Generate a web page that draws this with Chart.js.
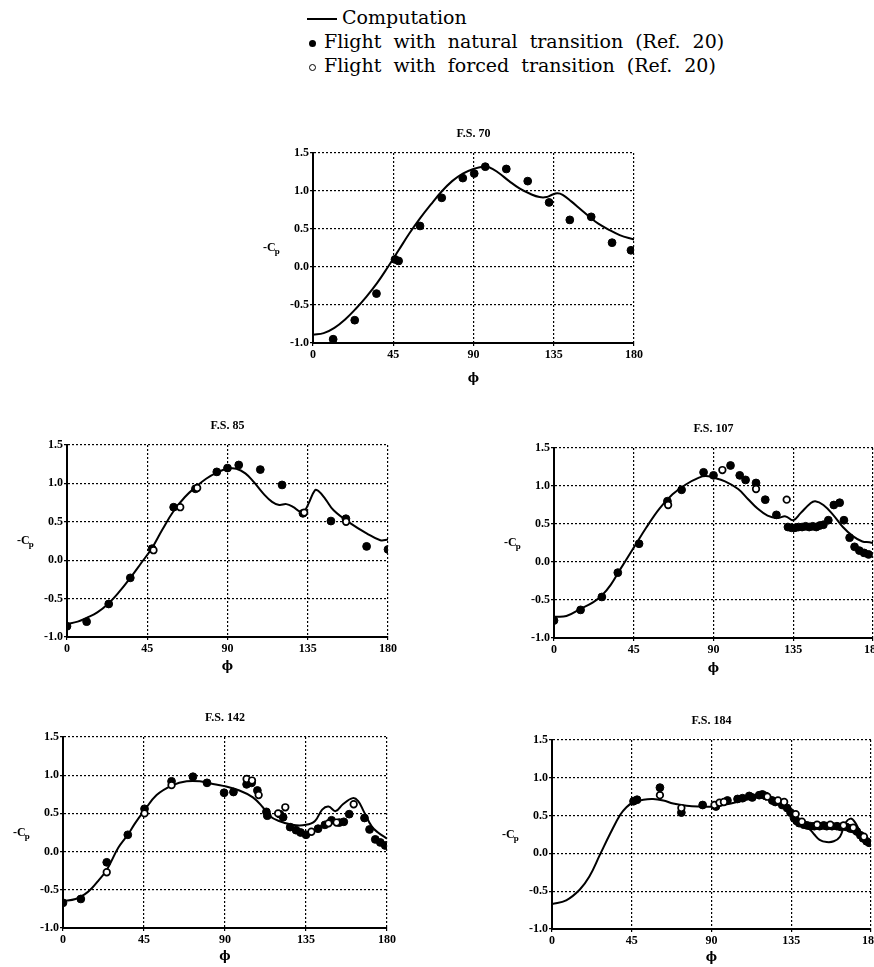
<!DOCTYPE html>
<html>
<head>
<meta charset="utf-8">
<script src="https://cdn.jsdelivr.net/npm/chart.js@4.4.1/dist/chart.umd.min.js"></script>
<style>
  html, body { margin:0; padding:0; background:#fff; width:874px; height:967px; overflow:hidden; }
  #page { position:relative; width:874px; height:967px; overflow:hidden; }
  .box { position:absolute; }
  #legend { position:absolute; left:307px; top:5px; font-family:"DejaVu Serif", serif; font-size:19px; word-spacing:6px; line-height:24px; color:#000; white-space:nowrap; }
  .dash { display:inline-block; width:30px; height:0; border-top:2px solid #000; vertical-align:middle; margin-right:5px; }
  .dot { display:inline-block; width:7px; height:7px; border-radius:50%; background:#000; vertical-align:middle; margin:0 8px 0 2px; }
  .ring { display:inline-block; width:5px; height:5px; border-radius:50%; border:1.3px solid #000; vertical-align:middle; margin:0 8px 0 2px; }
</style>
</head>
<body>
<div id="page">
  <div id="legend">
    <div><span class="dash"></span>Computation</div>
    <div><span class="dot"></span>Flight with natural transition (Ref. 20)</div>
    <div><span class="ring"></span>Flight with forced transition (Ref. 20)</div>
  </div>
</div>
<script>
// ---------- axis ticks ----------
const phiTicks = [0, 45, 90, 135, 180];
const cpTicks = [-1.0, -0.5, 0.0, 0.5, 1.0, 1.5];

// ---------- F.S. 70 ----------
const fs70LinePhi = [0, 6, 12, 18, 24, 30, 36, 42, 48, 54, 60, 66, 72, 78, 84, 90, 95, 99, 104, 110, 116, 122, 127, 131, 134, 137, 140, 145, 150, 155, 160, 166, 172, 180];
const fs70LineCp  = [-0.89, -0.87, -0.80, -0.69, -0.55, -0.39, -0.21, 0.00, 0.22, 0.44, 0.64, 0.82, 0.99, 1.13, 1.23, 1.29, 1.32, 1.31, 1.24, 1.13, 1.03, 0.96, 0.92, 0.92, 0.95, 0.97, 0.95, 0.86, 0.76, 0.66, 0.57, 0.49, 0.42, 0.36];
const fs70NatPhi  = [11.3, 23.4, 35.6, 46, 48, 60, 72.2, 84, 90.4, 96.6, 108.4, 120.4, 132.4, 144, 156, 167.7, 178.3];
const fs70NatCp   = [-0.95, -0.70, -0.35, 0.10, 0.08, 0.54, 0.91, 1.17, 1.23, 1.32, 1.29, 1.13, 0.85, 0.62, 0.66, 0.32, 0.22];
const fs70ForPhi  = [];
const fs70ForCp   = [];

// ---------- F.S. 85 ----------
const fs85LinePhi = [0, 6, 11, 17, 23.4, 29, 35.5, 41.5, 47.7, 53.5, 59.8, 66, 72, 78, 84, 90, 95, 100, 104.7, 110, 115, 119, 123, 127, 130, 132.7, 135.5, 139, 141, 144.8, 149.5, 159, 168, 175.7, 180];
const fs85LineCp  = [-0.83, -0.80, -0.75, -0.68, -0.56, -0.42, -0.23, -0.04, 0.16, 0.40, 0.64, 0.82, 0.95, 1.06, 1.14, 1.19, 1.19, 1.13, 1.02, 0.87, 0.76, 0.72, 0.73, 0.69, 0.64, 0.63, 0.74, 0.91, 0.90, 0.80, 0.65, 0.48, 0.35, 0.26, 0.27];
const fs85NatPhi  = [0, 11, 23.4, 35.5, 47.7, 59.8, 72, 84, 90, 96.3, 108.4, 120.6, 132.3, 148, 156.4, 168, 180];
const fs85NatCp   = [-0.86, -0.80, -0.57, -0.23, 0.15, 0.69, 0.93, 1.15, 1.20, 1.24, 1.18, 0.98, 0.61, 0.51, 0.54, 0.18, 0.14];
const fs85ForPhi  = [48.5, 63.5, 73, 133, 156.5];
const fs85ForCp   = [0.13, 0.69, 0.94, 0.62, 0.50];

// ---------- F.S. 107 ----------
const fs107LinePhi = [0, 7, 14.6, 22, 27, 32, 37, 44.5, 52, 59.4, 66.9, 74.4, 81.8, 85.6, 90, 96.5, 103.9, 109.4, 115, 120.5, 126, 130.7, 135, 139, 144.6, 147.4, 152, 157.5, 163, 168.6, 174, 178, 180];
const fs107LineCp  = [-0.72, -0.71, -0.62, -0.53, -0.44, -0.30, -0.11, 0.17, 0.45, 0.70, 0.89, 1.02, 1.11, 1.13, 1.11, 1.06, 0.96, 0.83, 0.70, 0.61, 0.58, 0.60, 0.55, 0.64, 0.77, 0.80, 0.75, 0.62, 0.46, 0.34, 0.27, 0.26, 0.25];
const fs107NatPhi  = [0, 15, 27, 36, 48, 64, 72, 84.4, 90, 99.6, 104.8, 108.1, 114, 119.2, 125.5, 132, 134, 136, 138, 140, 142, 144, 146, 148, 150, 152, 154.8, 157.9, 161.2, 163.6, 166.8, 169.6, 172.3, 175, 177.5];
const fs107NatCp   = [-0.77, -0.63, -0.46, -0.14, 0.24, 0.80, 0.95, 1.18, 1.14, 1.27, 1.14, 1.08, 1.04, 0.82, 0.62, 0.46, 0.45, 0.45, 0.46, 0.46, 0.47, 0.46, 0.47, 0.46, 0.48, 0.49, 0.55, 0.75, 0.78, 0.55, 0.32, 0.20, 0.15, 0.12, 0.10];
const fs107ForPhi  = [64.4, 95, 114, 131.3];
const fs107ForCp   = [0.75, 1.21, 0.96, 0.82];

// ---------- F.S. 142 ----------
const fs142LinePhi = [0, 7, 12, 16, 20, 24.3, 30.7, 36, 40, 44.6, 52, 61, 68.7, 76, 82, 89, 98, 105.5, 111, 114.6, 120, 127.4, 135, 140, 144, 147.5, 151.5, 155.5, 161, 164, 167, 171.5, 175, 180];
const fs142LineCp  = [-0.65, -0.62, -0.56, -0.48, -0.37, -0.24, 0.05, 0.22, 0.37, 0.52, 0.74, 0.87, 0.92, 0.92, 0.89, 0.86, 0.80, 0.71, 0.58, 0.47, 0.40, 0.35, 0.35, 0.40, 0.55, 0.59, 0.53, 0.62, 0.70, 0.66, 0.53, 0.33, 0.25, 0.17];
const fs142NatPhi  = [0, 9.9, 24.3, 36, 45.3, 60.3, 72.2, 80, 89.5, 94.7, 102, 104.8, 108, 113, 113.5, 120.5, 122.3, 126.2, 129.5, 132, 135, 141.7, 145.5, 149.2, 153.5, 156, 159, 167.5, 170.3, 173.5, 176.3, 179];
const fs142NatCp   = [-0.67, -0.62, -0.14, 0.22, 0.56, 0.92, 0.98, 0.90, 0.77, 0.78, 0.88, 0.90, 0.80, 0.52, 0.47, 0.49, 0.45, 0.32, 0.28, 0.25, 0.22, 0.30, 0.35, 0.41, 0.38, 0.39, 0.49, 0.44, 0.29, 0.16, 0.12, 0.08];
const fs142ForPhi  = [24.3, 45.3, 60.3, 102, 105, 108.7, 119.5, 123.5, 138, 147.5, 152, 161.5];
const fs142ForCp   = [-0.27, 0.50, 0.87, 0.95, 0.93, 0.74, 0.50, 0.58, 0.26, 0.37, 0.38, 0.62];

// ---------- F.S. 184 ----------
const fs184LinePhi = [0, 8, 15.6, 21, 27, 33, 38.5, 42, 45.5, 51.5, 57, 62.8, 68.4, 76, 83.5, 91, 98.6, 106, 113, 119.5, 125, 130.6, 134.5, 137.5, 141, 145, 148, 151, 155, 159, 162.5, 165.5, 168.5, 171, 174.5, 180];
const fs184LineCp  = [-0.67, -0.62, -0.48, -0.31, -0.02, 0.27, 0.51, 0.61, 0.67, 0.71, 0.72, 0.70, 0.66, 0.63, 0.62, 0.62, 0.65, 0.69, 0.73, 0.77, 0.73, 0.67, 0.58, 0.47, 0.38, 0.33, 0.25, 0.18, 0.15, 0.16, 0.22, 0.40, 0.46, 0.41, 0.26, 0.10];
const fs184NatPhi  = [46, 48, 60.9, 73, 85, 92.5, 99, 104.7, 107.5, 111.3, 113, 116.9, 118.7, 120.5, 124.3, 126, 129.9, 132.7, 134.6, 136.5, 138, 139.5, 142.1, 144, 145.8, 148, 151, 153.3, 155, 158, 160.8, 163, 166, 168.2, 170, 172, 174, 175.5, 177.5, 179];
const fs184NatCp   = [0.69, 0.71, 0.87, 0.54, 0.64, 0.62, 0.70, 0.72, 0.73, 0.76, 0.74, 0.77, 0.78, 0.76, 0.70, 0.68, 0.64, 0.60, 0.54, 0.47, 0.43, 0.40, 0.38, 0.37, 0.36, 0.36, 0.36, 0.37, 0.36, 0.36, 0.36, 0.35, 0.35, 0.33, 0.32, 0.29, 0.24, 0.20, 0.16, 0.14];
const fs184ForPhi  = [60.9, 73, 91.7, 94.5, 97, 121.5, 127.5, 131, 137.5, 141, 149.6, 157, 164.5, 170, 176];
const fs184ForCp   = [0.77, 0.60, 0.64, 0.67, 0.68, 0.75, 0.70, 0.68, 0.52, 0.42, 0.38, 0.38, 0.37, 0.34, 0.22];

// ---------- layout (plot-area edges in page pixels) ----------
const panels = [
  { title: "F.S. 70",  L: 313, T: 153, R: 634, B: 343, phiOff: 36, line: [fs70LinePhi, fs70LineCp],  nat: [fs70NatPhi, fs70NatCp],  forc: [fs70ForPhi, fs70ForCp] },
  { title: "F.S. 85",  L: 67,  T: 445, R: 388, B: 637, phiOff: 30, line: [fs85LinePhi, fs85LineCp],  nat: [fs85NatPhi, fs85NatCp],  forc: [fs85ForPhi, fs85ForCp] },
  { title: "F.S. 107", L: 554, T: 448, R: 873, B: 638, phiOff: 31, line: [fs107LinePhi, fs107LineCp], nat: [fs107NatPhi, fs107NatCp], forc: [fs107ForPhi, fs107ForCp] },
  { title: "F.S. 142", L: 63,  T: 737, R: 387, B: 928, phiOff: 29, line: [fs142LinePhi, fs142LineCp], nat: [fs142NatPhi, fs142NatCp], forc: [fs142ForPhi, fs142ForCp] },
  { title: "F.S. 184", L: 552, T: 740, R: 871, B: 929, phiOff: 29, line: [fs184LinePhi, fs184LineCp], nat: [fs184NatPhi, fs184NatCp], forc: [fs184ForPhi, fs184ForCp] }
];

const PADL = 15, YW = 45, PADT = 30, PADR = 25, PADB = 5, XH = 40;
const tickFont = { family: "'Liberation Serif', serif", size: 12, weight: "bold" };

function pts(pair) { return pair[0].map((x, i) => ({ x: x, y: pair[1][i] })); }

const textPlugin = {
  id: "panelText",
  afterDraw(chart) {
    const p = chart.options.plugins.panelText;
    const ca = chart.chartArea;
    const ctx = chart.ctx;
    ctx.save();
    ctx.fillStyle = "#000";
    ctx.textBaseline = "middle";
    ctx.textAlign = "center";
    ctx.font = "bold 12px 'Liberation Serif'";
    ctx.fillText(p.title, (ca.left + ca.right) / 2, ca.top - 19);
    ctx.font = "bold 12px 'DejaVu Serif'";
    ctx.fillText("\u03D5", (ca.left + ca.right) / 2, ca.bottom + p.phiOff);
    // -Cp label
    const cx = ca.left - 50, cy = (ca.top + ca.bottom) / 2;
    ctx.textAlign = "left";
    ctx.font = "bold 12px 'Liberation Serif'";
    const w1 = ctx.measureText("-C").width;
    ctx.fillText("-C", cx, cy);
    ctx.font = "bold 9px 'Liberation Serif'";
    ctx.fillText("p", cx + w1 - 1, cy + 4);
    ctx.restore();
  }
};

const page = document.getElementById("page");
panels.forEach((p) => {
  const w = (p.R - p.L) + PADL + YW + PADR;
  const h = (p.B - p.T) + PADT + PADB + XH;
  const div = document.createElement("div");
  div.className = "box";
  div.style.left = (p.L - PADL - YW) + "px";
  div.style.top = (p.T - PADT) + "px";
  div.style.width = w + "px";
  div.style.height = h + "px";
  const cv = document.createElement("canvas");
  cv.width = w; cv.height = h;
  div.appendChild(cv);
  page.appendChild(div);

  new Chart(cv, {
    type: "scatter",
    data: {
      datasets: [
        { label: "Computation", data: pts(p.line), showLine: true, borderColor: "#000", borderWidth: 2,
          pointRadius: 0, tension: 0.4, fill: false, order: 3 },
        { label: "Flight with natural transition (Ref. 20)", data: pts(p.nat), showLine: false,
          pointRadius: 3.9, pointBackgroundColor: "#000", pointBorderColor: "#000", pointBorderWidth: 1, order: 2 },
        { label: "Flight with forced transition (Ref. 20)", data: pts(p.forc), showLine: false,
          pointRadius: 3.3, pointBackgroundColor: "#fff", pointBorderColor: "#000", pointBorderWidth: 1.7, order: 1 }
      ]
    },
    options: {
      responsive: false,
      animation: false,
      devicePixelRatio: 1,
      layout: { padding: { left: PADL, top: PADT, right: PADR, bottom: PADB } },
      plugins: {
        legend: { display: false },
        tooltip: { enabled: false },
        title: { display: false },
        panelText: { title: p.title, phiOff: p.phiOff }
      },
      scales: {
        x: {
          type: "linear", min: 0, max: 180,
          afterBuildTicks(s) { s.ticks = phiTicks.map(v => ({ value: v })); },
          afterFit(s) { s.height = XH; },
          ticks: { font: tickFont, color: "#000", padding: 2, maxRotation: 0, callback: v => String(v) },
          grid: { color: "#000", lineWidth: 1.2, tickLength: 3, drawTicks: true },
          border: { display: true, color: "#000", width: 2, dash: [2, 2] }
        },
        y: {
          type: "linear", min: -1, max: 1.5,
          afterBuildTicks(s) { s.ticks = cpTicks.map(v => ({ value: v })); },
          afterFit(s) { s.width = YW; },
          ticks: { font: tickFont, color: "#000", padding: 1, callback: v => Number(v).toFixed(1) },
          grid: { color: "#000", lineWidth: 1.2, tickLength: 3, drawTicks: true },
          border: { display: true, color: "#000", width: 2, dash: [2, 2] }
        }
      }
    },
    plugins: [textPlugin]
  });
});
</script>
</body>
</html>
